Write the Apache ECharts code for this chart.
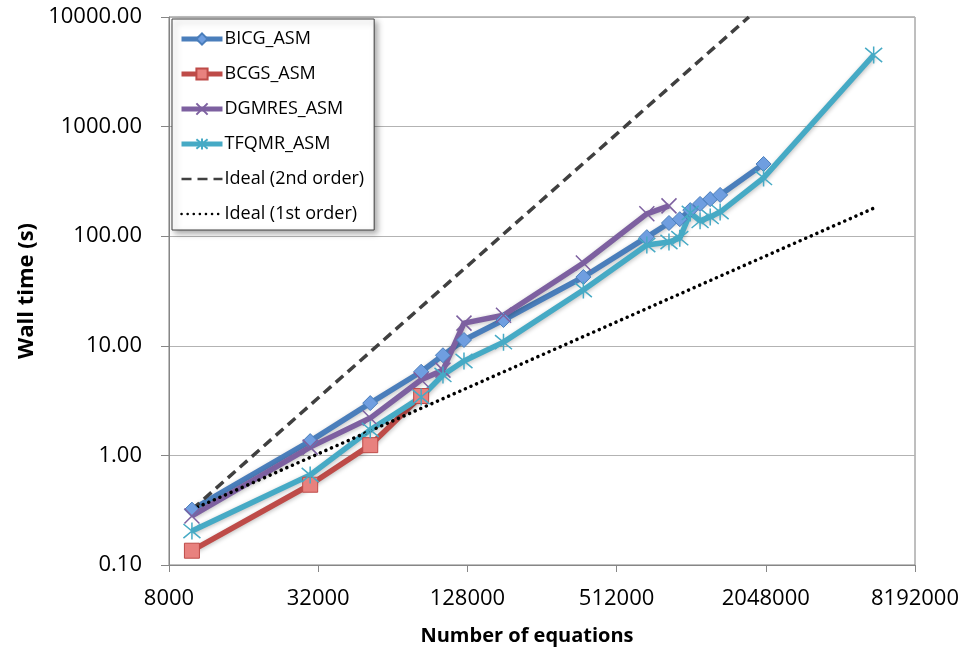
<!DOCTYPE html>
<html>
<head>
<meta charset="utf-8">
<script src="https://cdn.jsdelivr.net/npm/echarts@6/dist/echarts.min.js"></script>
<style>html,body{margin:0;padding:0;background:#fff}#c{width:965px;height:651px}</style>
</head>
<body>
<div id="c"></div>
<script>
// Number of equations (x values shared by the series)
const equations = [9900, 29700, 51900, 83300, 102000, 124000, 179000, 376000, 678000, 833000, 921000, 1015000, 1112000, 1222000, 1340000, 2006000, 5580000];
// Wall time (s)
const bicg   = [0.32, 1.35, 3.0, 5.8, 8.2, 11.3, 17.2, 42.4, 98, 132, 143, 173, 197, 218, 238, 456, null];
const bcgs   = [0.135, 0.54, 1.24, 3.48, null, null, null, null, null, null, null, null, null, null, null, null, null];
const dgmres = [0.28, 1.19, 2.19, 4.9, 6.0, 16.1, 19.0, 57, 160, 189, null, null, null, null, null, null, null];
const tfqmr  = [0.204, 0.662, 1.71, 3.41, 5.42, 7.27, 10.8, 32.3, 83, 88.5, 96, 163, 138, 150, 166, 340, 4500];
// Ideal reference lines (end points)
const ideal2 = [[9900, 0.32], [1750000, 10000]];
const ideal1 = [[9900, 0.32], [5580000, 180]];
// Axis ticks
const xUnit = 8000;           // first tick of the x axis (ticks go by factor 4)
const yTicks = [0.1, 1, 10, 100, 1000, 10000];

const pairs = (vals) => vals.map((v, i) => v == null ? null : [equations[i] / xUnit, v]).filter(p => p);
const pairsXY = (arr) => arr.map(p => [p[0] / xUnit, p[1]]);

const FONT = 'Open Sans';

function dataSeries(name, vals, color, symbol, size, fill, bw) {
  return {
    name: name, type: 'line', data: pairs(vals), symbol: symbol, symbolSize: size,
    lineStyle: {color: color, width: 5.5, shadowBlur: 4, shadowColor: 'rgba(0,0,0,0.25)', shadowOffsetX: 1, shadowOffsetY: 1},
    itemStyle: {color: fill, borderColor: color, borderWidth: bw}
  };
}

const chart = echarts.init(document.getElementById('c'));
chart.setOption({
  animation: false,
  backgroundColor: '#fff',
  grid: {left: 169, right: 50, top: 17, bottom: 86, show: true, borderColor: '#7f7f7f', borderWidth: 1},
  legend: {
    left: 172, top: 19, orient: 'vertical',
    itemWidth: 41, itemHeight: 14, itemGap: 13,
    padding: [9, 10, 5, 7],
    backgroundColor: '#fff', borderColor: '#404040', borderWidth: 1,
    shadowBlur: 6, shadowColor: 'rgba(0,0,0,0.35)', shadowOffsetX: 3, shadowOffsetY: 3,
    textStyle: {fontFamily: FONT, fontSize: 18, color: '#000', lineHeight: 22, padding: [0, 0, 0, -3]},
    data: [
      {name: 'BICG_ASM', lineStyle: {width: 5}},
      {name: 'BCGS_ASM', lineStyle: {width: 5}},
      {name: 'DGMRES_ASM', lineStyle: {width: 5}},
      {name: 'TFQMR_ASM', lineStyle: {width: 5}},
      {name: 'Ideal (2nd order)', lineStyle: {width: 2.5}},
      {name: 'Ideal (1st order)', lineStyle: {width: 2.5}}
    ]
  },
  xAxis: {
    type: 'log', logBase: 4, min: 1, max: 1024,
    name: 'Number of equations', nameLocation: 'middle', nameGap: 61,
    nameTextStyle: {fontFamily: FONT, fontSize: 20, fontWeight: 'bold', color: '#000', padding: [0, 30, 0, 0]},
    axisLine: {lineStyle: {color: '#868686', width: 1}},
    axisTick: {show: true, length: 7, lineStyle: {color: '#868686'}},
    axisLabel: {fontFamily: FONT, fontSize: 22, color: '#000', margin: 23, formatter: v => String(Math.round(v * xUnit))},
    splitLine: {show: false}
  },
  yAxis: {
    type: 'log', logBase: 10, min: yTicks[0], max: yTicks[yTicks.length - 1],
    name: 'Wall time (s)', nameLocation: 'middle', nameGap: 131,
    nameTextStyle: {fontFamily: FONT, fontSize: 22, fontWeight: 'bold', color: '#000'},
    axisLine: {show: true, lineStyle: {color: '#868686', width: 1}},
    axisTick: {show: true, length: 8, lineStyle: {color: '#868686'}},
    axisLabel: {fontFamily: FONT, fontSize: 22, color: '#000', margin: 27, formatter: v => Number(v).toFixed(2)},
    splitLine: {show: true, lineStyle: {color: '#b3b3b3', width: 1}}
  },
  series: [
    dataSeries('BICG_ASM', bicg, '#4a7ebb', 'diamond', 15, '#6f9ee0', 1),
    dataSeries('BCGS_ASM', bcgs, '#be4b48', 'rect', 15, '#e8817e', 1),
    dataSeries('DGMRES_ASM', dgmres, '#7d60a0', 'path://M0,0L10,10M10,0L0,10', 15, '#7d60a0', 1.5),
    dataSeries('TFQMR_ASM', tfqmr, '#46aac5', 'path://M0,0L10,10M10,0L0,10M5,-1L5,11', 17, '#46aac5', 1.5),
    {name: 'Ideal (2nd order)', type: 'line', data: pairsXY(ideal2), symbol: 'none',
      lineStyle: {color: '#404040', width: 3.5, type: [10, 6]}, itemStyle: {color: 'rgba(0,0,0,0)', borderWidth: 0}},
    {name: 'Ideal (1st order)', type: 'line', data: pairsXY(ideal1), symbol: 'none',
      lineStyle: {color: '#000', width: 3.5, type: [0.1, 6], cap: 'round'}, itemStyle: {color: 'rgba(0,0,0,0)', borderWidth: 0}}
  ]
});
</script>
</body>
</html>
